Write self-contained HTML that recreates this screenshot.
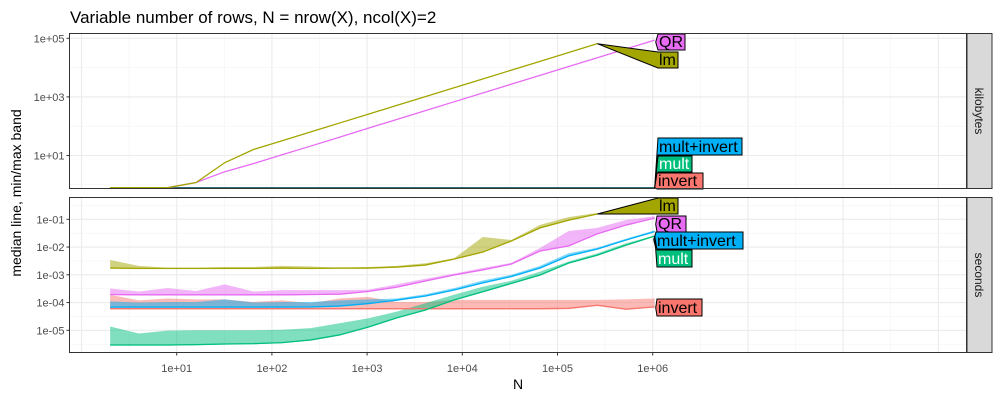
<!DOCTYPE html>
<html><head><meta charset="utf-8"><style>
html,body{margin:0;padding:0;background:#fff}
svg{display:block;font-family:"Liberation Sans",sans-serif}
</style></head><body>
<svg id="chart" width="1000" height="400" viewBox="0 0 1000 400">
<defs>
<clipPath id="clipT"><rect x="69.5" y="33.5" width="897" height="155"/></clipPath>
<clipPath id="clipB"><rect x="69.5" y="197.5" width="897" height="155"/></clipPath>
</defs>
<text x="70" y="23" font-size="17" fill="#000">Variable number of rows, N = nrow(X), ncol(X)=2</text>
<g id="grid"></g>
<g id="marks"></g>
<g id="labels"></g>
<rect x="69.5" y="33.5" width="897" height="155" fill="none" stroke="#333" stroke-width="1"/>
<rect x="69.5" y="197.5" width="897" height="155" fill="none" stroke="#333" stroke-width="1"/>
<rect x="967" y="33.5" width="25" height="155" fill="#d9d9d9" stroke="#333"/>
<rect x="967" y="197.5" width="25" height="155" fill="#d9d9d9" stroke="#333"/>
<text transform="translate(975,111) rotate(90)" text-anchor="middle" font-size="12" fill="#1a1a1a">kilobytes</text>
<text transform="translate(975,275) rotate(90)" text-anchor="middle" font-size="12" fill="#1a1a1a">seconds</text>
<text transform="translate(21,193) rotate(-90)" text-anchor="middle" font-size="14" fill="#000">median line, min/max band</text>
<text x="518" y="389" text-anchor="middle" font-size="14" fill="#000">N</text>
<g id="axes"></g>
</svg>
<script>
// ---- data ----
const rowsN = [2,4,8,16,32,64,128,256,512,1024,2048,4096,8192,16384,32768,65536,131072,262144,524288,1048576];
const xTickVals = [10,100,1000,10000,100000,1000000];
const xTickLabels = ["1e+01","1e+02","1e+03","1e+04","1e+05","1e+06"];
const topTickVals = [1e5,1e3,1e1];
const topTickLabels = ["1e+05","1e+03","1e+01"];
const botTickVals = [1e-1,1e-2,1e-3,1e-4,1e-5];
const botTickLabels = ["1e-01","1e-02","1e-03","1e-04","1e-05"];

const kbLm = [0,0,0,1.2,5.7,16,32,64,128,256,512,1024,2048,4096,8192,16384,32768,65536];
const kbQR = [0,0,0,1.2,2.8,5.3,10.6,21,42,85,170,340,680,1360,2720,5440,10900,21700,43400,86800];
const kbMult = [0,0,0,0,0,0,0,0,0,0,0,0,0,0,0,0,0,0,0,0];
const kbInvert = [0,0,0,0,0,0,0,0,0,0,0,0,0,0,0,0,0,0,0,0];
const kbMultInvert = [0,0,0,0,0,0,0,0,0,0,0,0,0,0,0,0,0,0,0,0];

const secLmMed = [1.76e-3,1.7e-3,1.7e-3,1.7e-3,1.7e-3,1.7e-3,1.75e-3,1.7e-3,1.75e-3,1.75e-3,1.9e-3,2.25e-3,3.7e-3,6.6e-3,1.66e-2,4.9e-2,9.3e-2,1.55e-1];
const secLmMax = [3.4e-3,2.1e-3,1.8e-3,1.8e-3,1.9e-3,1.9e-3,2.1e-3,2.0e-3,1.8e-3,1.9e-3,2.1e-3,2.6e-3,3.9e-3,2.3e-2,1.8e-2,6.3e-2,1.2e-1,1.7e-1];
const secLmMin = [1.65e-3,1.6e-3,1.6e-3,1.6e-3,1.6e-3,1.6e-3,1.65e-3,1.6e-3,1.65e-3,1.65e-3,1.8e-3,2.1e-3,3.5e-3,6.2e-3,1.55e-2,4.6e-2,8.8e-2,1.5e-1];

const secQRMed = [1.95e-4,1.9e-4,1.9e-4,1.9e-4,1.9e-4,1.9e-4,1.9e-4,1.95e-4,2.0e-4,2.5e-4,3.6e-4,6.0e-4,9.8e-4,1.5e-3,2.45e-3,7.2e-3,1.1e-2,3.0e-2,6.2e-2,1.1e-1];
const secQRMax = [3.2e-4,2.5e-4,3.3e-4,2.6e-4,4.5e-4,2.5e-4,2.8e-4,2.8e-4,2.8e-4,2.9e-4,4.5e-4,7.2e-4,1.1e-3,1.75e-3,2.7e-3,9.2e-3,3.8e-2,4.9e-2,9.4e-2,1.3e-1];
const secQRMin = [1.85e-4,1.8e-4,1.8e-4,1.8e-4,1.8e-4,1.8e-4,1.8e-4,1.85e-4,1.9e-4,2.4e-4,3.4e-4,5.7e-4,9.3e-4,1.42e-3,2.3e-3,6.8e-3,1.05e-2,2.8e-2,5.9e-2,1.05e-1];

const secMIMed = [6.9e-5,6.9e-5,6.9e-5,6.9e-5,6.9e-5,6.9e-5,6.9e-5,7.0e-5,7.5e-5,9.2e-5,1.23e-4,1.72e-4,2.83e-4,5.1e-4,8.7e-4,1.76e-3,4.8e-3,8.5e-3,1.8e-2,3.6e-2];
const secMIMax = [1.1e-4,1.0e-4,1.05e-4,1.05e-4,1.3e-4,1.0e-4,1.05e-4,1.05e-4,1.2e-4,1.3e-4,1.4e-4,2.0e-4,3.3e-4,6.2e-4,1.0e-3,2.1e-3,6.0e-3,9.5e-3,2.0e-2,4.0e-2];
const secMIMin = [6.4e-5,6.4e-5,6.4e-5,6.4e-5,6.4e-5,6.4e-5,6.4e-5,6.5e-5,7.0e-5,8.6e-5,1.15e-4,1.62e-4,2.65e-4,4.8e-4,8.2e-4,1.65e-3,4.5e-3,8.0e-3,1.7e-2,3.4e-2];

const secMultMed = [2.95e-6,2.95e-6,2.95e-6,3.05e-6,3.2e-6,3.3e-6,3.6e-6,4.5e-6,6.8e-6,1.3e-5,2.8e-5,5.4e-5,1.24e-4,2.45e-4,4.9e-4,9.8e-4,2.66e-3,5.1e-3,1.17e-2,2.5e-2];
const secMultMax = [1.37e-5,7.7e-6,9.7e-6,1.0e-5,1.0e-5,1.0e-5,1.05e-5,1.2e-5,1.8e-5,2.7e-5,4.7e-5,9.4e-5,1.9e-4,3.7e-4,6.1e-4,1.3e-3,3.0e-3,5.9e-3,1.37e-2,2.6e-2];
const secMultMin = [2.8e-6,2.8e-6,2.8e-6,2.9e-6,3.05e-6,3.15e-6,3.4e-6,4.3e-6,6.5e-6,1.24e-5,2.65e-5,5.1e-5,1.18e-4,2.3e-4,4.6e-4,9.2e-4,2.5e-3,4.8e-3,1.1e-2,2.35e-2];

const secInvMed = [6.0e-5,6.0e-5,6.0e-5,6.0e-5,6.0e-5,6.0e-5,6.0e-5,6.0e-5,6.0e-5,6.0e-5,6.0e-5,6.0e-5,6.0e-5,6.0e-5,6.0e-5,6.0e-5,6.2e-5,8.0e-5,5.8e-5,7.0e-5];
const secInvMax = [1.9e-4,1.2e-4,1.4e-4,1.3e-4,1.3e-4,1.05e-4,1.2e-4,9.4e-5,1.4e-4,1.6e-4,1.05e-4,1.05e-4,1.25e-4,1.25e-4,1.25e-4,1.25e-4,1.25e-4,1.25e-4,1.3e-4,1.4e-4];
const secInvMin = [5.6e-5,5.6e-5,5.6e-5,5.6e-5,5.6e-5,5.6e-5,5.6e-5,5.6e-5,5.6e-5,5.6e-5,5.6e-5,5.6e-5,5.6e-5,5.6e-5,5.6e-5,5.6e-5,5.8e-5,7.5e-5,5.4e-5,6.6e-5];

// ---- scales ----
const NS = "http://www.w3.org/2000/svg";
const TOP_Y0 = 33.5, TOP_Y1 = 188.5, BOT_Y0 = 197.5, BOT_Y1 = 352.5, PX0 = 69.5, PX1 = 966.5;
function xs(n){ return 176.7 + (Math.log10(n) - 1) * 95.2; }
function yt(v){ if (v <= 0) return TOP_Y1 - 0.8; return Math.min(TOP_Y1 - 0.8, 38.3 + (5 - Math.log10(v)) * 29.3); }
function yb(v){ return 219.3 - (Math.log10(v) + 1) * 27.75; }

function mk(tag, attrs, parent){
  const e = document.createElementNS(NS, tag);
  for (const k in attrs) e.setAttribute(k, attrs[k]);
  parent.appendChild(e);
  return e;
}
const grid = document.getElementById('grid');
const marks = document.getElementById('marks');
const labels = document.getElementById('labels');
const axes = document.getElementById('axes');

// gridlines
[[TOP_Y0,TOP_Y1],[BOT_Y0,BOT_Y1]].forEach(([a,b])=>{
  for (let L = 0; L <= 9; L++) {
    const xm = xs(Math.pow(10,L));
    if (xm > PX0 && xm < PX1) {
      const g = mk('line',{x1:xm,x2:xm,y1:a,y2:b,stroke:'#ebebeb','stroke-width':1.1},grid);
      
      
    }
    const xn = xs(Math.pow(10,L+0.5));
    if (xn > PX0 && xn < PX1) {
      const g = mk('line',{x1:xn,x2:xn,y1:a,y2:b,stroke:'#f3f3f3','stroke-width':0.6},grid);
      
      
    }
  }
});
for (let L = -1; L <= 6; L++) {
  const y = 38.3 + (5 - L) * 29.3; const odd = (L % 2 !== 0);
  if (y > TOP_Y0 && y < TOP_Y1) {
    const g = mk('line',{x1:PX0,x2:PX1,y1:y,y2:y,stroke:odd?'#ebebeb':'#f3f3f3','stroke-width':odd?1.1:0.6},grid);
    
    
  }
}
for (let L = -6; L <= 0; L += 0.5) {
  const y = yb(Math.pow(10,L)); const maj = Number.isInteger(L);
  if (y > BOT_Y0 && y < BOT_Y1) {
    const g = mk('line',{x1:PX0,x2:PX1,y1:y,y2:y,stroke:maj?'#ebebeb':'#f3f3f3','stroke-width':maj?1.1:0.6},grid);
    
    
  }
}

// axes ticks
xTickVals.forEach((v,i)=>{
  const x = xs(v);
  const t = mk('line',{x1:x,x2:x,y1:BOT_Y1,y2:BOT_Y1+3,stroke:'#333'},axes);
  
  
  const tx = mk('text',{x:x,y:372,'text-anchor':'middle','font-size':11,fill:'#4d4d4d'},axes);
  tx.textContent = xTickLabels[i];
  
  
});
topTickVals.forEach((v,i)=>{
  const y = yt(v);
  const t = mk('line',{x1:PX0-3,x2:PX0,y1:y,y2:y,stroke:'#333'},axes);
  
  
  const tx = mk('text',{x:PX0-5,y:y+4,'text-anchor':'end','font-size':11,fill:'#4d4d4d'},axes);
  tx.textContent = topTickLabels[i];
  
  
});
botTickVals.forEach((v,i)=>{
  const y = yb(v);
  const t = mk('line',{x1:PX0-3,x2:PX0,y1:y,y2:y,stroke:'#333'},axes);
  
  
  const tx = mk('text',{x:PX0-5,y:y+4,'text-anchor':'end','font-size':11,fill:'#4d4d4d'},axes);
  tx.textContent = botTickLabels[i];
  
  
});

// series
const COL = {lm:'#a3a500', QR:'#e76bf3', mi:'#00b0f6', mult:'#00bf7d', inv:'#f8766d'};
const gT = mk('g',{'clip-path':'url(#clipT)'},marks);
const gB = mk('g',{'clip-path':'url(#clipB)'},marks);

function band(mx, mn, col, name){
  let d = '';
  mx.forEach((v,i)=>{ d += (i?'L':'M') + xs(rowsN[i]).toFixed(2) + ',' + yb(v).toFixed(2); });
  for (let i = mn.length-1; i >= 0; i--) d += 'L' + xs(rowsN[i]).toFixed(2) + ',' + yb(mn[i]).toFixed(2);
  const p = mk('path',{d:d+'Z',fill:col,'fill-opacity':0.5,stroke:'none'},gB);
  
  
}
function line(vals, yf, col, g, name){
  const pts = vals.map((v,i)=> xs(rowsN[i]).toFixed(2) + ',' + yf(v).toFixed(2)).join(' ');
  const p = mk('polyline',{points:pts,fill:'none',stroke:col,'stroke-width':1.3},g);
  
  
}
// top panel
line(kbInvert, yt, COL.inv, gT, 'kb-line-invert');
line(kbMult, yt, COL.mult, gT, 'kb-line-mult');
line(kbMultInvert, yt, '#2f6f7a', gT, 'kb-line-mult-invert');
line(kbQR, yt, COL.QR, gT, 'kb-line-qr');
line(kbLm, yt, COL.lm, gT, 'kb-line-lm');
// bottom panel
band(secInvMax, secInvMin, COL.inv, 'sec-band-invert');
band(secLmMax, secLmMin, COL.lm, 'sec-band-lm');
band(secMultMax, secMultMin, COL.mult, 'sec-band-mult');
band(secMIMax, secMIMin, COL.mi, 'sec-band-mult-invert');
band(secQRMax, secQRMin, COL.QR, 'sec-band-qr');
line(secInvMed, yb, COL.inv, gB, 'sec-line-invert');
line(secLmMed, yb, COL.lm, gB, 'sec-line-lm');
line(secMultMed, yb, COL.mult, gB, 'sec-line-mult');
line(secMIMed, yb, COL.mi, gB, 'sec-line-mult-invert');
line(secQRMed, yb, COL.QR, gB, 'sec-line-qr');

// direct labels
function lab(tx, ty, x0, y0, x1, y1, col, text, tcol, name){
  const pts = [[tx,ty],[x0,y0],[x1,y0],[x1,y1],[x0,y1]].map(p=>p[0].toFixed(1)+','+p[1].toFixed(1)).join(' ');
  const p = mk('polygon',{points:pts,fill:col,stroke:'#000','stroke-width':1},labels);
  
  
  const t = mk('text',{x:x0+1,y:y1-3,'font-size':16,fill:tcol},labels);
  t.textContent = text;
  
  
}
const L = secLmMed.length-1, Q = secQRMed.length-1;
// top
lab(xs(rowsN[kbQR.length-1])+1, yt(kbQR[kbQR.length-1])+2, 658, 34, 685, 50, COL.QR, 'QR', '#000', 'top-label-qr');
lab(xs(rowsN[kbLm.length-1]), yt(kbLm[kbLm.length-1]), 658, 52, 678, 68, COL.lm, 'lm', '#000', 'top-label-lm');
lab(xs(rowsN[19]), yt(kbMultInvert[19]), 658, 138, 742, 155, COL.mi, 'mult+invert', '#000', 'top-label-mult-invert');
lab(xs(rowsN[19]), yt(kbMult[19]), 658, 156, 692, 172, COL.mult, 'mult', '#fff', 'top-label-mult');
lab(xs(rowsN[19]), yt(kbInvert[19]), 657, 173, 703, 189, COL.inv, 'invert', '#000', 'top-label-invert');
// bottom
lab(xs(rowsN[L]), yb(secLmMed[L]), 658, 198, 678, 214, COL.lm, 'lm', '#000', 'bottom-label-lm');
lab(xs(rowsN[Q])+1, yb(secQRMed[Q])+6, 657, 216, 686, 232, COL.QR, 'QR', '#000', 'bottom-label-qr');
lab(xs(rowsN[19])-1, yb(secMIMed[19])+8, 656, 232, 743, 249, COL.mi, 'mult+invert', '#000', 'bottom-label-mult-invert');
lab(xs(rowsN[19]), yb(secMultMed[19]), 657, 250, 692, 267, COL.mult, 'mult', '#fff', 'bottom-label-mult');
lab(xs(rowsN[19])+1, yb(secInvMed[19])+1, 657, 299, 702, 316, COL.inv, 'invert', '#000', 'bottom-label-invert');
</script>
</body></html>
